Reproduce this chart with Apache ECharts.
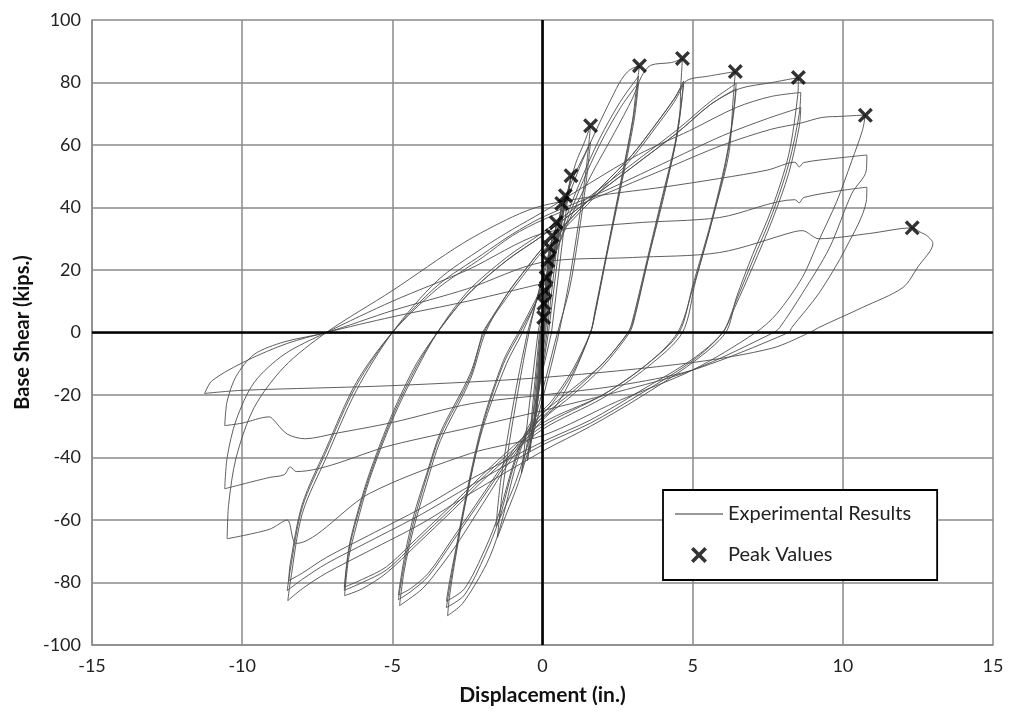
<!DOCTYPE html>
<html>
<head>
<meta charset="utf-8">
<script src="https://cdn.jsdelivr.net/npm/echarts@6/dist/echarts.min.js"></script>
<style>
html,body{margin:0;padding:0;background:#fff;}
#chart{width:1013px;height:719px;}
</style>
</head>
<body>
<div id="chart"></div>
<script>
// ---- data: [displacement (in.), base shear (kips)] ----
const xTicks = [-15, -10, -5, 0, 5, 10, 15];
const yTicks = [-100, -80, -60, -40, -20, 0, 20, 40, 60, 80, 100];

const smallCycles = [
 [0,0],[0.04,4.8],[0.01,0],[-0.04,-5],[0,0],
 [0.05,9.3],[0.01,0],[-0.06,-9],[0,0],
 [0.09,13.4],[0.02,0],[-0.09,-13],[0,0],
 [0.12,17.6],[0.03,0],[-0.12,-17],[0,0],
 [0.18,23],[0.04,0],[-0.16,-22],[-0.02,0],
 [0.23,27.2],[0.05,0],[-0.2,-26],[-0.03,0],
 [0.32,31],[0.07,0],[-0.26,-30],[-0.04,0],
 [0.46,35.2],[0.1,0],[-0.33,-34],[-0.05,0],
 [0.64,41.3],[0.15,0],[-0.42,-38],[-0.07,0],
 [0.76,43.8],[0.2,0],[-0.5,-41],[-0.1,0],
 [0.95,50.2],[0.8,40],[0.3,0],[-0.3,-25],[-0.7,-45],[-0.4,-20],[-0.15,0]
];

const cycle16 = [
 [-0.15,0],[0.3,22],[0.7,40],[1.1,54],[1.4,61],[1.6,66.2],
 [1.45,52],[1.2,35],[0.9,17],[0.55,0],[0.2,-14],[-0.3,-32],[-0.8,-48],[-1.2,-58],[-1.5,-65.6],
 [-1.35,-52],[-1.1,-35],[-0.8,-18],[-0.45,0],[0,18],[0.5,35],[1.0,49],[1.4,57],[1.6,61],
 [1.45,48],[1.2,31],[0.9,14],[0.5,0],[0.1,-15],[-0.4,-33],[-0.9,-48],[-1.3,-57],[-1.55,-62],
 [-1.4,-48],[-1.1,-30],[-0.8,-14],[-0.5,0]
];

const cycle32 = [
 [-0.5,0],[0,17],[0.6,36],[1.2,52],[1.8,65],[2.3,75],[2.63,81],[2.9,84],[3.23,85.4],
 [3.1,76],[3.0,68],[2.56,46],[2.13,25],[1.75,6],[1.6,0],[1.0,-14],[0.4,-24],[-0.43,-31],[-0.87,-42],[-1.43,-63],[-1.86,-74],[-2.66,-86.7],[-3.16,-90.6],
 [-3.1,-84.8],[-2.93,-74],[-2.53,-53],[-2.0,-31],[-1.2,-10],[-0.67,0],[0,15],[0.6,32],[1.2,47],[1.9,62],[2.6,74],[3.2,82],
 [3.05,70],[2.6,47],[2.15,26],[1.75,7],[1.6,0],[1.0,-13],[0.3,-23],[-0.4,-30],[-0.9,-41],[-1.45,-60],[-1.9,-71],[-2.6,-84],[-3.2,-88],
 [-3.1,-82],[-2.9,-71],[-2.5,-51],[-2.0,-30],[-1.3,-10],[-0.75,0],[0,14],[0.6,30],[1.2,45],[1.9,60],[2.6,72],[3.2,80],
 [3.05,68],[2.6,46],[2.15,25],[1.75,6],[1.6,0],[1.0,-12],[0.3,-22],[-0.4,-29],[-0.9,-40],[-1.45,-58],[-1.9,-69],[-2.6,-82],[-3.2,-86],
 [-3.1,-80],[-2.9,-70],[-2.5,-50],[-2.0,-29],[-1.3,-9],[-0.8,0]
];

const cycle47 = [
 [-0.8,0],[0,15],[0.8,34],[1.6,50],[2.4,64],[3.0,75],[3.3,82],[3.6,85.5],[4.3,86.4],[4.66,87.7],
 [4.6,78],[4.56,68],[4.1,46],[3.56,25],[3.05,4],[2.9,0],[2.0,-11],[1.0,-20],[0,-28],[-1.0,-40],[-2.0,-55],[-2.8,-67],[-3.4,-75],[-4.0,-82],[-4.76,-87.4],
 [-4.6,-76],[-4.3,-63],[-3.85,-48],[-3.4,-34.6],[-2.4,-15],[-1.9,0],[-1.2,12],[-0.5,21],[0,27],[1.0,37],[2.0,47],[3.0,57],[3.8,67],[4.4,75],[4.7,80.5],
 [4.6,72],[4.4,60],[4.0,44],[3.5,24],[3.0,4],[2.85,0],[2.0,-10],[1.0,-19],[0,-27],[-1.0,-39],[-2.0,-53],[-3.0,-67],[-3.8,-78],[-4.4,-83],[-4.8,-85.5],
 [-4.6,-74],[-4.3,-61],[-3.85,-46],[-3.4,-33],[-2.4,-14],[-1.95,0],[-1.2,11],[-0.5,20],[0,26],[1.0,36],[2.0,46],[3.0,56],[3.8,66],[4.4,74],[4.7,79.5],
 [4.6,71],[4.4,59],[4.0,43],[3.5,23],[3.0,3],[2.85,0],[2.0,-10],[1.0,-18],[0,-26],[-1.0,-38],[-2.0,-52],[-3.0,-66],[-3.8,-77],[-4.4,-82],[-4.8,-84],
 [-4.6,-72],[-4.3,-59],[-3.85,-45],[-3.4,-32],[-2.4,-13],[-2.0,0]
];

const cycle64 = [
 [-2.0,0],[-1.2,12],[-0.5,21],[0,27],[1,37],[2,47],[3,57],[3.8,67],[4.4,75],[4.8,80.6],[5.5,82],[6.42,83.5],
 [6.35,75],[6.2,57],[5.65,36],[5.1,16.6],[4.66,0],[3.5,-11],[2,-21],[0,-31],[-1.5,-43],[-3,-57],[-4.2,-68],[-5.2,-77],[-6.0,-82],[-6.59,-84.2],
 [-6.45,-72],[-6.2,-62],[-5.76,-47],[-5.0,-28],[-4.2,-12],[-3.5,0],[-2.5,13],[-1.2,24],[0,32],[1.5,43],[3,54],[4.5,65],[5.6,74],[6.45,79.7],
 [6.35,70],[6.1,55],[5.6,35],[5.0,15],[4.55,0],[3.5,-10],[2,-20],[0,-30],[-1.5,-42],[-3,-56],[-4.2,-67],[-5.2,-76],[-6.0,-80],[-6.6,-82.5],
 [-6.45,-70],[-6.2,-60],[-5.76,-46],[-5.0,-27],[-4.2,-11],[-3.5,0],[-2.5,12],[-1.2,23],[0,31],[1.5,42],[3,53],[4.5,64],[5.6,73],[6.45,78],
 [6.35,69],[6.1,54],[5.6,34],[5.0,14],[4.5,0],[3.5,-10],[2,-20],[0,-29],[-1.5,-41],[-3,-55],[-4.2,-66],[-5.2,-75],[-6.0,-79],[-6.6,-81.5],
 [-6.45,-69],[-6.2,-59],[-5.76,-45],[-5.0,-26],[-4.2,-10],[-3.5,0]
];

const cycle85 = [
 [-3.5,0],[-2.5,12],[-1.2,23],[0,31],[1.5,42],[3,53],[4.5,64],[5.6,73],[6.55,78],[7.65,80],[8.52,81.6],
 [8.5,76],[8.2,57],[7.65,40],[7.0,25],[6.45,11],[6.1,0],[5,-9.6],[3.2,-21],[1.6,-30],[0,-38],[-2.4,-51.5],[-4,-61],[-5.8,-70],[-7.2,-77],[-8.0,-82],[-8.48,-85.8],
 [-8.4,-80],[-8.0,-58],[-7.2,-40],[-6.2,-18.6],[-5,0],[-3.5,16.6],[-2,27],[-1,33],[0,38.5],[1.56,47.7],[3.2,57],[4.9,64.6],[6.45,72],[7.6,75.5],[8.6,76.8],
 [8.55,70],[8.2,54],[7.65,38],[7.0,23],[6.4,9],[6.0,0],[5,-9],[3.2,-20],[1.6,-29],[0,-36],[-2.4,-49],[-4,-58],[-5.8,-67],[-7.2,-74],[-8.0,-79],[-8.5,-82.6],
 [-8.4,-76],[-8.0,-56],[-7.2,-38],[-6.2,-17],[-5,0],[-3.5,15],[-2,25],[-1,31.5],[0,36.9],[2,45],[4,54],[6,63],[7.5,68.5],[8.6,72],
 [8.55,66],[8.2,51],[7.65,36],[7.0,21],[6.4,8],[6.0,0],[5,-8.5],[3.2,-19],[1.6,-28],[0,-35],[-2.4,-47],[-4,-56],[-5.8,-65],[-7.2,-72],[-8.0,-77],[-8.45,-79.4],
 [-8.4,-74],[-8.0,-55],[-7.2,-37],[-6.2,-16],[-5,0],[-3.5,14],[-2,24],[-1,31],[0,36],[2,44],[4,52],[6,60],[7.6,65],[8.6,67],
 [9.3,68.8],[10.0,69.2],[10.75,69.6]
];

const cycle107 = [
 [10.75,69.6],[10.65,64.6],[10.3,55],[9.8,42],[9.2,29.4],[8.65,17.6],[7.8,6],[7.1,0],[5,-12],[2.5,-22],[0,-33],[-2.4,-38.7],[-5.76,-51.5],[-8.2,-67.5],[-8.5,-60],[-9.1,-63],[-10.5,-66],
 [-10.45,-55],[-10.2,-40],[-9.6,-24],[-8.6,-11],[-7.2,0],[-5,13.4],[-2.66,28.5],[-1,37],[0,40.6],[2,44],[4,46.5],[5.9,49.3],[7.5,52],[8.4,54.5],[8.55,53],[8.7,54.4],[10,56],[10.8,56.8],
 [10.78,51.8],[10.3,44.5],[9.55,27],[8.65,12.5],[7.9,1.6],[7.7,0],[5,-12],[2.5,-19],[0,-25],[-2.4,-30.4],[-5,-36],[-8.2,-44.5],[-8.4,-43],[-8.6,-45.5],[-9.1,-46.4],[-10.58,-50],
 [-10.5,-40],[-10.2,-28],[-9.6,-16],[-8.6,-7],[-7.2,0],[-5,10],[-2.5,20],[0,31.7],[3,35],[5.9,36.8],[8.4,42.5],[8.55,41.5],[8.7,43.2],[10,45.5],[10.8,46.5],
 [10.78,42],[10.1,27],[9.2,12.5],[8.3,1.6],[8.2,0],[5,-12],[2.5,-17],[0,-20],[-2.4,-22.8],[-5,-28.8],[-6.9,-32.3],[-7.9,-34],[-8.5,-32.5],[-9.0,-27.5],[-9.1,-27],[-10.0,-29],[-10.58,-29.8]
];

const cycleFinal = [
 [-10.58,-29.8],[-10.5,-22],[-10.2,-14],[-9.6,-7],[-8.6,-3],[-7.2,0],[-5,7],[-2.5,14],[0,22.5],[3,24],[5.9,25.6],[8.4,32.3],[8.65,32.6],[9.2,30],[10.9,31.7],[12.3,33.5],[12.6,32],[12.8,31],[13.0,28.5],
 [12.5,21],[12,14.4],[10.65,8],[9.2,1.6],[8.9,0],[7.65,-5],[5,-9.6],[0,-14.4],[-5,-17],[-10,-18.5],[-11.25,-19.5],
 [-11,-15.4],[-9.85,-9],[-8.5,-3.5],[-7.2,0],[-5,5],[-2.5,10],[0,15.7]
];

const peakValues = [
 [0.04,4.8],[0.05,9.3],[0.09,13.4],[0.12,17.6],[0.18,23],[0.23,27.2],[0.32,31],[0.46,35.2],
 [0.64,41.3],[0.76,43.8],[0.95,50.2],[1.6,66.2],[3.23,85.4],[4.66,87.7],[6.42,83.5],
 [8.52,81.6],[10.75,69.5],[12.31,33.5]
];

const loops = [cycle16, cycle32, cycle47, cycle64, cycle85, cycle107, cycleFinal];

// ---- chart ----
const FONT = 'Lato, "Open Sans", sans-serif';
const chart = echarts.init(document.getElementById('chart'), null, {renderer: 'canvas'});
const lineStyle = {color: '#4d4d4d', width: 0.9};
const xMark = 'path://M0,1.6 L1.6,0 L5,3.4 L8.4,0 L10,1.6 L6.6,5 L10,8.4 L8.4,10 L5,6.6 L1.6,10 L0,8.4 L3.4,5 Z';

const series = [];
series.push({
  name: 'Experimental Results', type: 'line', data: smallCycles, symbol: 'none',
  smooth: false, lineStyle: lineStyle, silent: true, z: 3,
  markLine: {
    silent: true, symbol: 'none', label: {show: false},
    lineStyle: {color: '#000', width: 2.6, type: 'solid'},
    data: [{xAxis: 0}, {yAxis: 0}]
  }
});
loops.forEach(function (d) {
  series.push({
    name: 'Experimental Results', type: 'line', data: d, symbol: 'none',
    smooth: 0.3, lineStyle: lineStyle, silent: true, z: 3
  });
});
series.push({
  name: 'Peak Values', type: 'scatter', data: peakValues, symbol: xMark,
  symbolSize: 15, itemStyle: {color: '#000'}, z: 5
});

chart.setOption({
  animation: false,
  backgroundColor: '#fff',
  grid: {left: 92, right: 20, top: 20, bottom: 74, containLabel: false},
  xAxis: {
    type: 'value', min: xTicks[0], max: xTicks[xTicks.length - 1], interval: 5,
    name: 'Displacement (in.)', nameLocation: 'middle', nameGap: 40,
    nameTextStyle: {fontFamily: FONT, fontWeight: 'bold', fontSize: 21, color: '#111'},
    axisLine: {onZero: false, lineStyle: {color: '#8a8a8a', width: 1.5}},
    axisTick: {show: false},
    axisLabel: {fontFamily: FONT, fontSize: 18, color: '#222', margin: 12},
    splitLine: {show: true, lineStyle: {color: '#8a8a8a', width: 1.5}}
  },
  yAxis: {
    type: 'value', min: yTicks[0], max: yTicks[yTicks.length - 1], interval: 20,
    name: 'Base Shear (kips.)', nameLocation: 'middle', nameGap: 55, nameRotate: 90,
    nameTextStyle: {fontFamily: FONT, fontWeight: 'bold', fontSize: 20, color: '#111'},
    axisLine: {onZero: false, lineStyle: {color: '#8a8a8a', width: 1.5}},
    axisTick: {show: false},
    axisLabel: {fontFamily: FONT, fontSize: 18, color: '#222', margin: 11},
    splitLine: {show: true, lineStyle: {color: '#8a8a8a', width: 1.5}}
  },
  legend: {
    show: true, orient: 'vertical', left: 663, top: 490,
    backgroundColor: '#fff', borderColor: '#000', borderWidth: 1.8, borderRadius: 0,
    padding: [14, 26, 15, 12], itemGap: 21, itemWidth: 48, itemHeight: 16,
    textStyle: {fontFamily: FONT, fontSize: 20, color: '#222'},
    data: [
      {name: 'Experimental Results', icon: 'path://M0,0 L50,0 L50,1 L0,1 Z', itemStyle: {color: '#333'}},
      {name: 'Peak Values', icon: xMark}
    ]
  },
  series: series
});
</script>
</body>
</html>
